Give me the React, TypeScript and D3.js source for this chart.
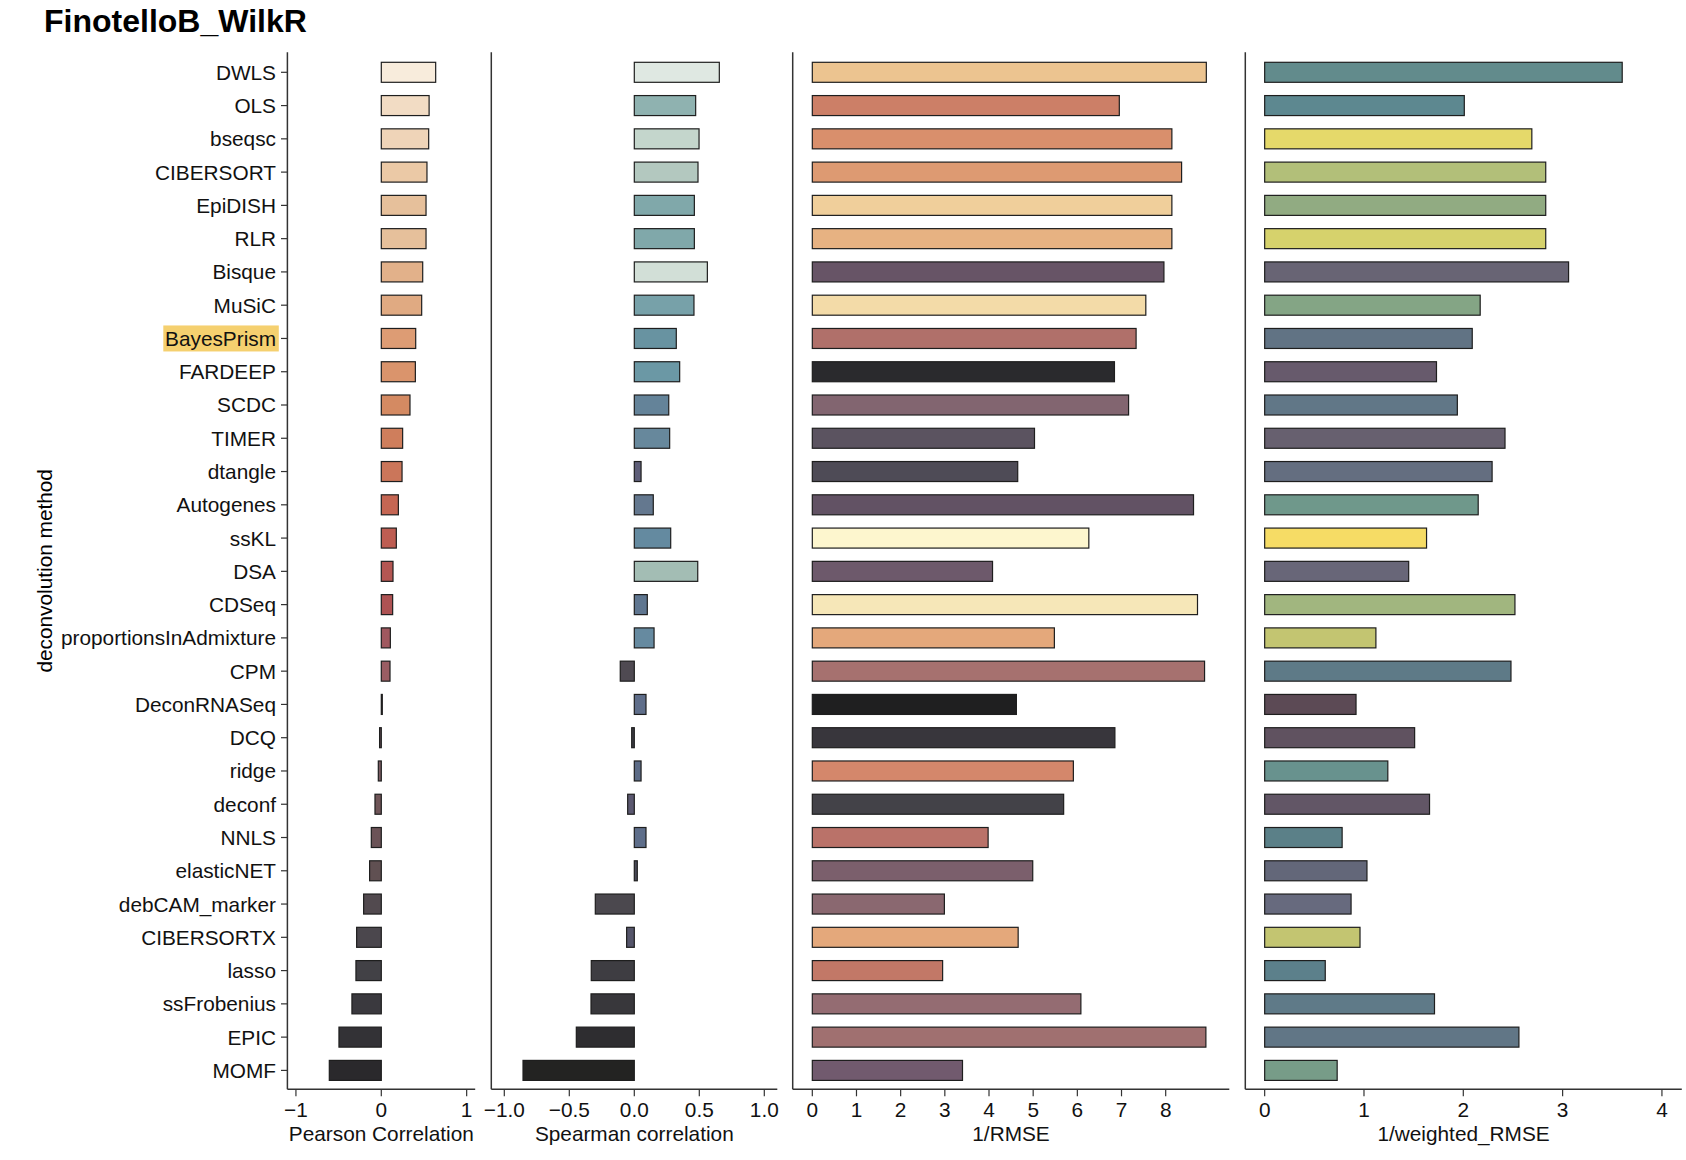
import React from "react";
import * as d3 from "d3";

const methods = [
  "DWLS", "OLS", "bseqsc", "CIBERSORT", "EpiDISH", "RLR", "Bisque", "MuSiC",
  "BayesPrism", "FARDEEP", "SCDC", "TIMER", "dtangle", "Autogenes", "ssKL", "DSA",
  "CDSeq", "proportionsInAdmixture", "CPM", "DeconRNASeq", "DCQ", "ridge", "deconf",
  "NNLS", "elasticNET", "debCAM_marker", "CIBERSORTX", "lasso", "ssFrobenius", "EPIC", "MOMF",
];
const highlighted = "BayesPrism";

const pearson = [
  0.637, 0.56, 0.555, 0.535, 0.524, 0.524, 0.485, 0.473, 0.403, 0.399, 0.336, 0.25,
  0.243, 0.2, 0.176, 0.137, 0.133, 0.106, 0.102, 0.005, -0.02, -0.035, -0.074, -0.117,
  -0.137, -0.207, -0.289, -0.297, -0.344, -0.496, -0.609,
];
const spearman = [
  0.654, 0.472, 0.498, 0.49, 0.462, 0.462, 0.562, 0.459, 0.323, 0.349, 0.265, 0.272,
  0.052, 0.146, 0.28, 0.488, 0.1, 0.152, -0.108, 0.09, -0.02, 0.052, -0.051, 0.09,
  0.023, -0.3, -0.059, -0.331, -0.333, -0.446, -0.856,
];
const invRmse = [
  8.92, 6.95, 8.14, 8.36, 8.14, 8.14, 7.96, 7.55, 7.33, 6.84, 7.16, 5.03, 4.65, 8.63,
  6.26, 4.08, 8.72, 5.48, 8.88, 4.62, 6.85, 5.91, 5.69, 3.98, 4.99, 2.99, 4.66, 2.95,
  6.08, 8.91, 3.4,
];
const invWeightedRmse = [
  3.6, 2.01, 2.69, 2.83, 2.83, 2.83, 3.06, 2.17, 2.09, 1.73, 1.94, 2.42, 2.29, 2.15,
  1.63, 1.45, 2.52, 1.12, 2.48, 0.92, 1.51, 1.24, 1.66, 0.78, 1.03, 0.87, 0.96, 0.61,
  1.71, 2.56, 0.73,
];

const pearsonColors = [
  "#f8ecdc", "#f2dcc4", "#efd4b8", "#ebc9a6", "#e6c09b", "#e6c09b", "#e2b18a", "#e0aa82",
  "#dd9c74", "#da946c", "#d48a62", "#cf7e5c", "#cb765a", "#c56653", "#be5d52", "#b45652",
  "#ae5253", "#a0585f", "#9a5d63", "#835a62", "#5f4a52", "#7a5c62", "#6f5558", "#6b5357",
  "#605052", "#524a4f", "#4b474d", "#424146", "#3a393e", "#333236", "#2a292c",
];
const spearmanColors = [
  "#dfe8e2", "#8fb2b0", "#c4d6cc", "#b3c8bf", "#80a8aa", "#80a8aa", "#d2dfd7", "#77a1a9",
  "#6893a1", "#6b98a5", "#648399", "#67889c", "#5e5e78", "#64788f", "#648aa0", "#a3bdb4",
  "#5f7690", "#668aa0", "#4f4a52", "#5f6e8a", "#3e3c44", "#5c6b86", "#5b5870", "#5e6e8a",
  "#4a4a58", "#4b484e", "#55556a", "#3e3d42", "#38373b", "#2e2d30", "#232322",
];
const rmseColors = [
  "#ecc490", "#cc7f67", "#d98f6c", "#dd9a72", "#f0cf9b", "#e7b282", "#675466", "#f3dba8",
  "#b0706a", "#2a2a2d", "#826570", "#5b5360", "#4e4b56", "#625264", "#fdf6ce", "#6d596b",
  "#f6e7b8", "#e4a87b", "#a6716f", "#1f1f20", "#38363c", "#d4876b", "#434248", "#ba7269",
  "#7b5f6c", "#8a6870", "#e4a87b", "#c27867", "#946c72", "#a07070", "#715a6e",
];
const wRmseColors = [
  "#628b8c", "#5d8890", "#e5d96a", "#b2bf79", "#91ab82", "#d6d26c", "#686474", "#84a585",
  "#617384", "#675a6c", "#617787", "#67606f", "#646e80", "#6f988b", "#f6dc65", "#686678",
  "#a1b67f", "#c3c571", "#5e7a87", "#5c4a55", "#605260", "#68928e", "#625666", "#5b8088",
  "#636779", "#676a7e", "#c3c571", "#5c808b", "#5f7a88", "#617686", "#779c88",
];

const pearsonTicks = [-1, 0, 1];
const spearmanTicks = [-1, -0.5, 0, 0.5, 1];
const rmseTicks = [0, 1, 2, 3, 4, 5, 6, 7, 8];
const wRmseTicks = [0, 1, 2, 3, 4];

const title = "FinotelloB_WilkR";
const yLabel = "deconvolution method";

const FONT = "'Liberation Sans', Arial, Helvetica, sans-serif";
const W = 1686;
const H = 1160;
const AX_TOP = 52.3;
const AX_BOTTOM = 1089.3;
const BAR_H = 20;
const LABEL_FS = 20.8;

const fmtInt = d3.format("d");
const fmt1 = d3.format(".1f");

const panels = [
  { key: "p", label: "Pearson Correlation", values: pearson, colors: pearsonColors, ticks: pearsonTicks, fmt: fmtInt, domain: [-1.1, 1.1], range: [287.4, 475.2] },
  { key: "s", label: "Spearman correlation", values: spearman, colors: spearmanColors, ticks: spearmanTicks, fmt: fmt1, domain: [-1.1, 1.1], range: [491.3, 777.3] },
  { key: "r", label: "1/RMSE", values: invRmse, colors: rmseColors, ticks: rmseTicks, fmt: fmtInt, domain: [-0.444, 9.44], range: [792.7, 1229.3] },
  { key: "w", label: "1/weighted_RMSE", values: invWeightedRmse, colors: wRmseColors, ticks: wRmseTicks, fmt: fmtInt, domain: [-0.195, 4.2], range: [1245.3, 1681.8] },
];

export default function App() {
  const y = d3.scalePoint<string>().domain(methods).range([72.3, 1070.4]);
  const axisColor = "#333";
  return (
    <svg
      width={W}
      height={H}
      style={{ position: "absolute", left: 0, top: 0, background: "#fff" }}
      fontFamily={FONT}
    >
      <rect x={0} y={0} width={W} height={H} fill="#fff" />
      <text x={44} y={32} fontSize={32} fontWeight="bold" fill="#000">{title}</text>
      <text
        transform={`translate(52,${(AX_TOP + AX_BOTTOM) / 2}) rotate(-90)`}
        textAnchor="middle"
        fontSize={LABEL_FS}
        fill="#000"
      >
        {yLabel}
      </text>

      {methods.map((m) => {
        const cy = y(m)!;
        const isHi = m === highlighted;
        return (
          <g key={"yl" + m}>
            {isHi && (
              <rect x={163.3} y={cy - 13} width={115.5} height={26} fill="#f5d06f" />
            )}
            <line x1={281} x2={287.4} y1={cy} y2={cy} stroke={axisColor} strokeWidth={1.2} />
            <text x={276} y={cy} dy="0.36em" textAnchor="end" fontSize={LABEL_FS} fill="#111">
              {m}
            </text>
          </g>
        );
      })}

      {panels.map((p) => {
        const x = d3.scaleLinear().domain(p.domain).range(p.range);
        const x0 = x(0);
        const cx = (p.range[0] + p.range[1]) / 2;
        return (
          <g key={p.key}>
            {p.values.map((v, i) => {
              const cy = y(methods[i])!;
              const xv = x(v);
              const w = Math.max(Math.abs(xv - x0), 1);
              return (
                <rect
                  key={i}
                  x={Math.min(xv, x0)}
                  y={cy - BAR_H / 2}
                  width={w}
                  height={BAR_H}
                  fill={p.colors[i]}
                  stroke="#1e1e1e"
                  strokeWidth={1.2}
                />
              );
            })}
            <line x1={p.range[0]} x2={p.range[0]} y1={AX_TOP} y2={AX_BOTTOM} stroke={axisColor} strokeWidth={1.5} />
            <line x1={p.range[0]} x2={p.range[1]} y1={AX_BOTTOM} y2={AX_BOTTOM} stroke={axisColor} strokeWidth={1.5} />
            {p.ticks.map((t) => (
              <g key={t}>
                <line x1={x(t)} x2={x(t)} y1={AX_BOTTOM} y2={AX_BOTTOM + 7} stroke={axisColor} strokeWidth={1.2} />
                <text x={x(t)} y={1117} textAnchor="middle" fontSize={LABEL_FS} fill="#111">
                  {p.fmt(t)}
                </text>
              </g>
            ))}
            <text x={cx} y={1141} textAnchor="middle" fontSize={LABEL_FS} fill="#111">
              {p.label}
            </text>
          </g>
        );
      })}
    </svg>
  );
}
